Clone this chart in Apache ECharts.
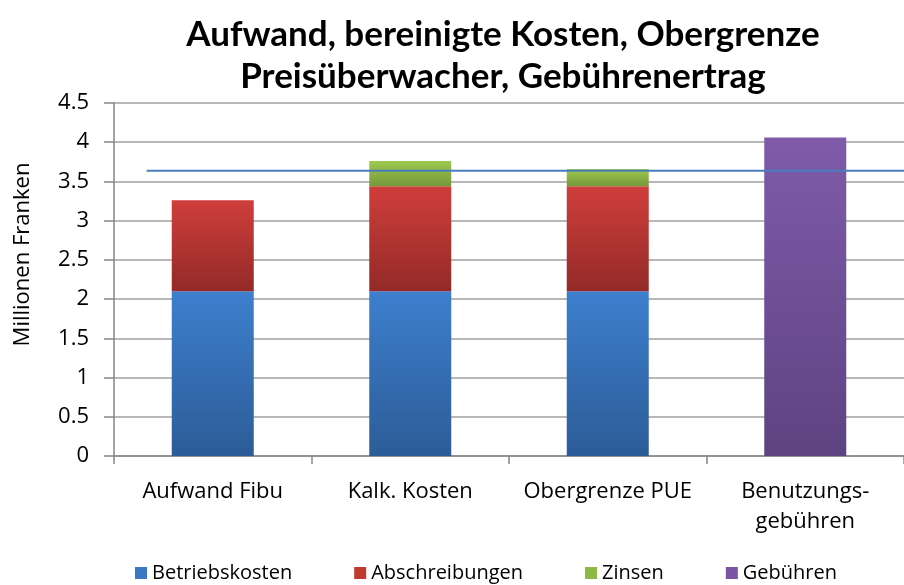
<!DOCTYPE html>
<html><head><meta charset="utf-8">
<script src="https://cdn.jsdelivr.net/npm/echarts@6/dist/echarts.min.js"></script>
<style>html,body{margin:0;padding:0;background:#fff}#c{width:904px;height:585px}</style>
</head><body><div id="c"></div>
<script>
const categories = ['Aufwand Fibu', 'Kalk. Kosten', 'Obergrenze PUE', 'Benutzungs-\ngebühren'];
const betriebskosten = [2.1, 2.1, 2.1, '-'];
const abschreibungen = [1.16, 1.34, 1.34, '-'];
const zinsen = ['-', 0.32, 0.22, '-'];
const gebuehren = ['-', '-', '-', 4.06];
const obergrenzeLine = [[0.165, 3.635], [4, 3.635]];
const yTicks = { min: 0, max: 4.5, interval: 0.5 };

const FONT = 'Open Sans';
function grad(top, bottom) {
  return new echarts.graphic.LinearGradient(0, 0, 0, 1, [{offset: 0, color: top}, {offset: 1, color: bottom}]);
}
const chart = echarts.init(document.getElementById('c'));
chart.setOption({
  animation: false,
  title: {
    text: 'Aufwand, bereinigte Kosten, Obergrenze\nPreisüberwacher, Gebührenertrag',
    left: 498, top: 9, textAlign: 'center',
    textStyle: {fontFamily: 'Lato', fontWeight: 'bold', fontSize: 35, lineHeight: 42, color: '#000'}
  },
  legend: {
    bottom: -3, left: 130, itemWidth: 12, itemHeight: 12, itemGap: 62,
    icon: 'rect',
    textStyle: {fontFamily: FONT, fontSize: 20, color: '#000', padding: [0, 0, 0, 0]},
    data: [
      {name: 'Betriebskosten', itemStyle: {color: '#3A78C6'}},
      {name: 'Abschreibungen', itemStyle: {color: '#C0392F'}},
      {name: 'Zinsen', itemStyle: {color: '#8DB843'}},
      {name: 'Gebühren', itemStyle: {color: '#7A55A3'}}
    ]
  },
  grid: {left: 114, right: -8, top: 103, bottom: 129, containLabel: false},
  xAxis: [{
    type: 'category', data: categories,
    axisLine: {lineStyle: {color: '#868686', width: 1.5}},
    axisTick: {show: true, interval: 0, length: 8, lineStyle: {color: '#868686', width: 1.5}},
    axisLabel: {interval: 0, fontFamily: FONT, fontSize: 22, color: '#000', margin: 21, lineHeight: 30}
  }, {
    type: 'value', min: 0, max: 4, show: false
  }],
  yAxis: {
    type: 'value', min: yTicks.min, max: yTicks.max, interval: yTicks.interval,
    name: 'Millionen Franken', nameLocation: 'middle', nameGap: 80, nameRotate: 90,
    nameTextStyle: {fontFamily: FONT, fontSize: 22, color: '#000', padding: [0, 0, 0, 50]},
    axisLine: {show: true, lineStyle: {color: '#868686', width: 1.5}},
    axisTick: {show: true, length: 10, lineStyle: {color: '#868686', width: 1.5}},
    axisLabel: {fontFamily: FONT, fontSize: 22, color: '#000', margin: 25},
    splitLine: {lineStyle: {color: '#a0a0a0', width: 1.5}}
  },
  series: [
    {name: 'Betriebskosten', type: 'bar', stack: 's', barWidth: 82, data: betriebskosten,
     itemStyle: {color: grad('#3D7FCE', '#2C5C97')}},
    {name: 'Abschreibungen', type: 'bar', stack: 's', barWidth: 82, data: abschreibungen,
     itemStyle: {color: grad('#CF3E3B', '#932A28')}},
    {name: 'Zinsen', type: 'bar', stack: 's', barWidth: 82, data: zinsen,
     itemStyle: {color: grad('#9DC94F', '#76983A')}},
    {name: 'Gebühren', type: 'bar', stack: 's', barWidth: 82, data: gebuehren,
     itemStyle: {color: grad('#7F5BA9', '#5E4382')}},
    {name: 'Obergrenze', type: 'line', xAxisIndex: 1, data: obergrenzeLine,
     symbol: 'none', lineStyle: {color: '#4A7EBB', width: 2}, z: 5}
  ]
});
</script></body></html>
